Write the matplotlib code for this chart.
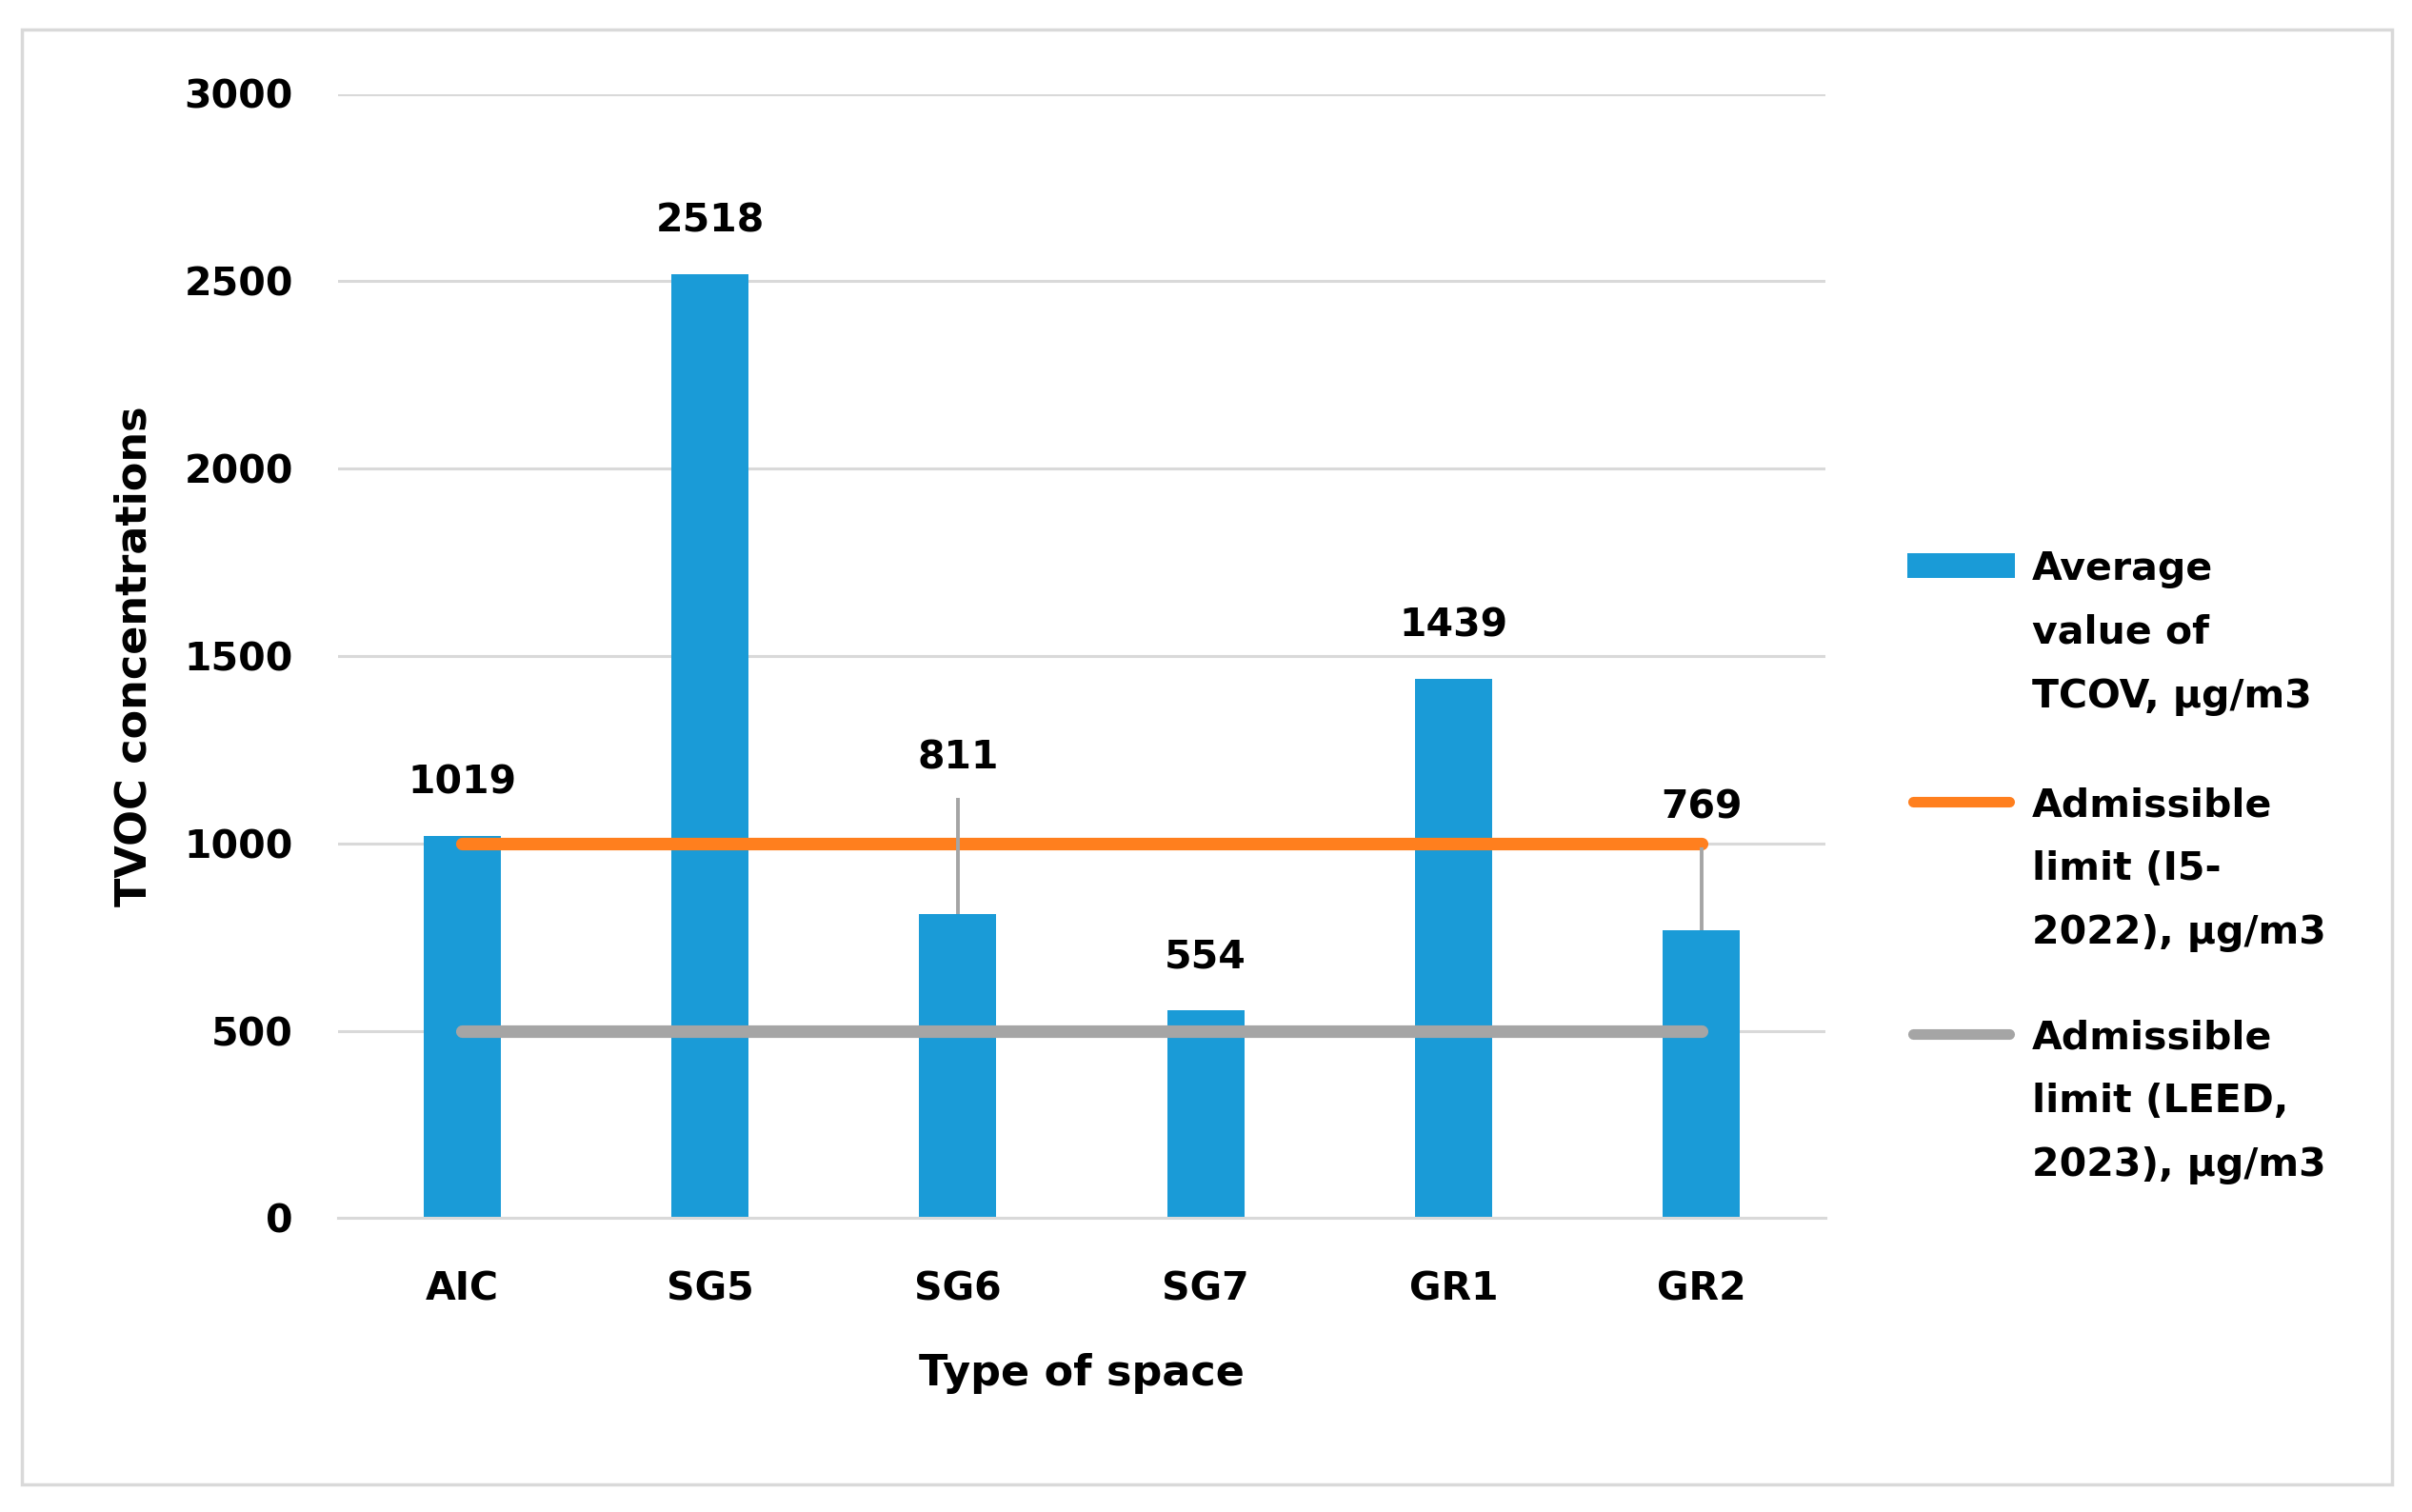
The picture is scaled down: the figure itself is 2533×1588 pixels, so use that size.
import matplotlib
matplotlib.use("Agg")
import matplotlib.pyplot as plt
from matplotlib.patches import Rectangle
from matplotlib.lines import Line2D
import numpy as np

categories = ["AIC", "SG5", "SG6", "SG7", "GR1", "GR2"]
avg_tvoc = [1019, 2518, 811, 554, 1439, 769]
err_plus = [0, 0, 310, 0, 0, 220]
limit_i5 = [1000, 1000, 1000, 1000, 1000, 1000]
limit_leed = [500, 500, 500, 500, 500, 500]
yticks = [0, 500, 1000, 1500, 2000, 2500, 3000]
legend_labels = [["Average", "value of", "TCOV, µg/m3"],
                 ["Admissible", "limit (I5-", "2022), µg/m3"],
                 ["Admissible", "limit (LEED,", "2023), µg/m3"]]

plt.rcParams['font.family'] = ['DejaVu Sans']
plt.rcParams['font.weight'] = 'bold'

W, H = 2533, 1588
fig = plt.figure(figsize=(W / 100, H / 100), dpi=100)
ax = fig.add_axes([355 / W, 1 - 1279.4 / H, (1917 - 355) / W, (1279.4 - 98.5) / H])

x = np.arange(len(categories))
blue = "#1A9BD7"
orange = "#FF7F1E"
grey = "#A5A5A5"
gridc = "#D9D9D9"
FS = 29.5

ax.bar(x, avg_tvoc, width=0.31, color=blue, zorder=2)
ax.plot(x, limit_i5, color=orange, lw=9.5, solid_capstyle="round", zorder=3)
ax.plot(x, limit_leed, color=grey, lw=9.5, solid_capstyle="round", zorder=3)
yerr = np.array([np.zeros(len(err_plus)), err_plus])
ax.errorbar(x, avg_tvoc, yerr=yerr, fmt="none", ecolor=grey, elinewidth=2.8, capsize=0, zorder=4)

for xi, v, e in zip(x, avg_tvoc, err_plus):
    off = 30 if e > 0 else 40
    ax.annotate(str(v), (xi, v + e), xytext=(0, off), textcoords="offset points",
                ha="center", va="center", fontsize=FS, fontweight="bold", color="black")

ax.set_xlim(-0.5, 5.5)
ax.set_ylim(0, 3000)
ax.set_yticks(yticks)
ax.set_xticks(x)
ax.set_xticklabels(categories)
ax.yaxis.grid(True, color=gridc, lw=2.2, zorder=0)
ax.set_axisbelow(True)
for s in ["top", "right", "left"]:
    ax.spines[s].set_visible(False)
ax.spines["bottom"].set_color(gridc)
ax.spines["bottom"].set_linewidth(2.2)
ax.tick_params(axis="both", length=0, labelsize=FS)
ax.tick_params(axis="y", pad=34)
ax.tick_params(axis="x", pad=40)
for lab in ax.get_xticklabels() + ax.get_yticklabels():
    lab.set_fontweight("bold")

ax.set_xlabel("Type of space", fontsize=32, fontweight="bold", va="center")
ax.xaxis.set_label_coords(0.5, (1279.4 - 1443) / 1181)
ax.set_ylabel("TVOC concentrations", fontsize=32, fontweight="bold", va="center")
ax.yaxis.set_label_coords((140.5 - 355) / 1562, 0.5)

# legend (drawn manually so handles align with the first label line)
first_line_y = [594, 842, 1086]
line_step = 67
text_x = 2134
hx0, hx1 = 2003, 2116
for i, lines in enumerate(legend_labels):
    y0 = first_line_y[i]
    for j, ln in enumerate(lines):
        fig.text(text_x / W, 1 - (y0 + j * line_step + 15) / H, ln, ha="left", va="baseline",
                 fontsize=FS, fontweight="bold", color="black")
y_b = first_line_y[0]
fig.patches.append(Rectangle((hx0 / W, 1 - (y_b + 13) / H), (hx1 - hx0) / W, 26 / H,
                             transform=fig.transFigure, facecolor=blue, edgecolor="none"))
for yy, col in [(first_line_y[1], orange), (first_line_y[2], grey)]:
    fig.lines.append(Line2D([(hx0 + 6) / W, (hx1 - 6) / W], [1 - yy / H, 1 - yy / H],
                            transform=fig.transFigure, color=col, lw=8, solid_capstyle="round"))

fig.patches.append(Rectangle((23 / W, 1 - 1559 / H), (2512 - 23) / W, (1559 - 31) / H,
                             transform=fig.transFigure, fill=False, edgecolor=gridc, lw=2.5))

fig.savefig("out.png", dpi=100, facecolor="white")
